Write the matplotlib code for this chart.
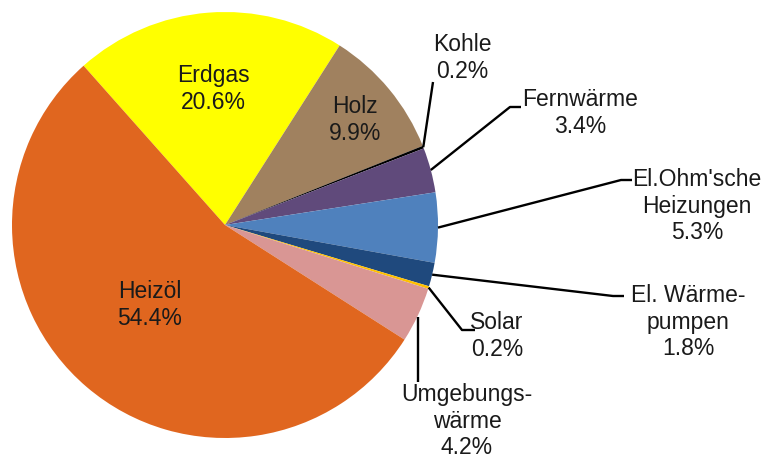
import matplotlib
matplotlib.use("Agg")
import matplotlib.pyplot as plt
import numpy as np

# Data (clockwise order starting at the Erdgas/Heizöl boundary)
categories = ["Erdgas", "Holz", "Kohle", "Fernwärme", "El.Ohm'sche\nHeizungen",
              "El. Wärme-\npumpen", "Solar", "Umgebungs-\nwärme", "Heizöl"]
shares = [20.6, 9.9, 0.2, 3.4, 5.3, 1.8, 0.2, 4.2, 54.4]
colors = ["#FFFF00", "#A0815F", "#000000", "#604A7B", "#4F81BD",
          "#1F497D", "#FFC000", "#D99694", "#E0661F"]

# Layout (pixel coordinates, y measured from top)
W, H = 766, 459
center_px = (225, 225)
radius_px = 213
start_angle = 131.6

label_pos = [(213, 89), (355, 120), (462, 58), (580, 113), (697, 206),
             (688, 322), (497, 336), (467, 421), (150, 305)]
# leader lines: list of intermediate/end points (None = no leader)
leaders = [None, None,
           [(433, 82)],
           [(510, 107), (521, 107)],
           [(621, 180), (632, 180)],
           [(613, 296), (624, 296)],
           [(462, 330), (475, 330)],
           "vertical",
           None]

plt.rcParams['font.family'] = ['Liberation Sans', 'DejaVu Sans']

fig = plt.figure(figsize=(W / 100, H / 100), dpi=100)
ax = fig.add_axes([0, 0, 1, 1])

def Y(y):
    return H - y

wedges, _ = ax.pie(shares, colors=colors, startangle=start_angle, counterclock=False,
                   center=(center_px[0], Y(center_px[1])), radius=radius_px,
                   wedgeprops=dict(linewidth=0), frame=True)

ax.set_xlim(0, W)
ax.set_ylim(0, H)
ax.set_aspect('auto')
ax.axis('off')

txt_color = "#1a1a1a"
for i, (w, cat, val) in enumerate(zip(wedges, categories, shares)):
    lx, ly = label_pos[i]
    ax.text(lx, Y(ly), f"{cat}\n{val:.1f}%", ha='center', va='center',
            multialignment='center', fontsize=16.5, color=txt_color, linespacing=1.22)
    ld = leaders[i]
    if ld is None:
        continue
    theta = np.deg2rad((w.theta1 + w.theta2) / 2)
    sx = center_px[0] + radius_px * np.cos(theta)
    sy = center_px[1] - radius_px * np.sin(theta)
    if ld == "vertical":
        pts = [(sx, sy + 2), (sx, 382)]
    else:
        pts = [(sx, sy)] + ld
    xs = [p[0] for p in pts]
    ys = [Y(p[1]) for p in pts]
    ax.plot(xs, ys, color="black", lw=1.7, solid_capstyle='butt')

fig.savefig("out.png", dpi=100)
